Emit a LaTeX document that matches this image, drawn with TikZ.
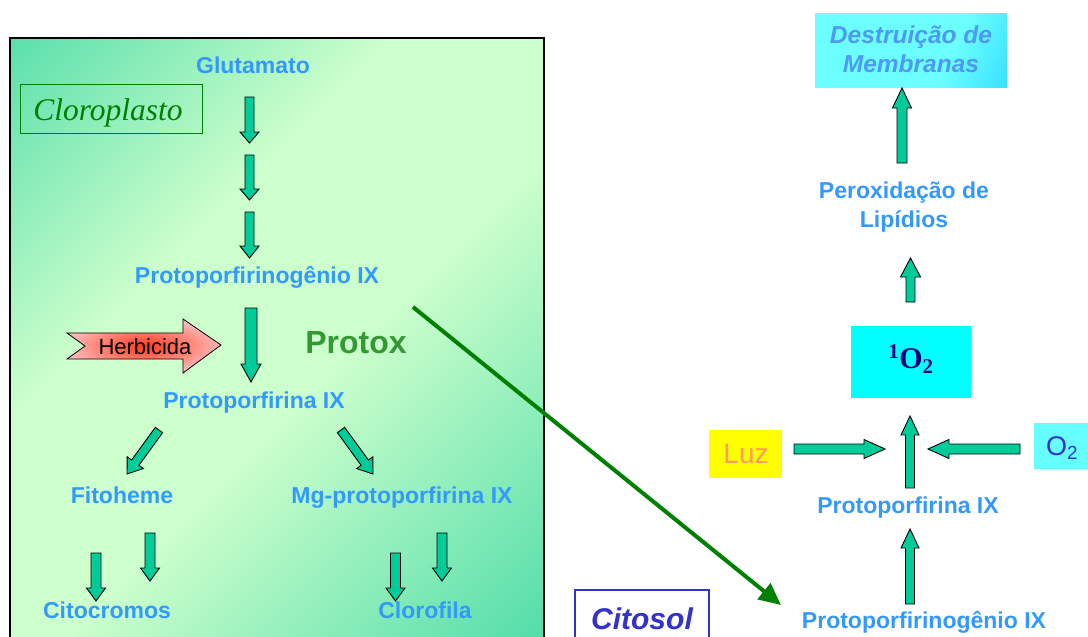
\documentclass[tikz,border=0pt]{standalone}
\usepackage{fontspec}
\setmainfont{Liberation Serif}
\newfontfamily\ars{Liberation Sans}
\usetikzlibrary{arrows.meta,calc}
\definecolor{panelteal}{RGB}{20,204,152}
\definecolor{panellight}{RGB}{204,255,204}
\definecolor{arrteal}{HTML}{00CC99}
\definecolor{lblue}{HTML}{3399FF}
\definecolor{protoxgreen}{HTML}{339933}
\definecolor{clorogreen}{HTML}{008000}
\definecolor{citblue}{HTML}{3333CC}
\definecolor{navyO}{HTML}{000080}
\definecolor{luztext}{HTML}{FF9966}
\definecolor{luzfill}{RGB}{255,255,0}
\definecolor{cyanbox}{RGB}{0,255,255}
\definecolor{o2fill}{HTML}{66FFFF}
\definecolor{dlight}{HTML}{6CFFFF}
\definecolor{ddark}{HTML}{10C8FF}
\definecolor{destrtext}{HTML}{4D99F5}
\definecolor{herbred}{HTML}{FF3A1A}
\definecolor{herbpink}{HTML}{FFB8B8}
\pgfdeclarehorizontalshading{panelshade}{100bp}{color(0bp)=(panelteal); color(38bp)=(panellight); color(55bp)=(panellight); color(100bp)=(panelteal)}
\pgfdeclarehorizontalshading{destrshade}{100bp}{color(0bp)=(dlight); color(62bp)=(dlight); color(100bp)=(ddark)}
\tikzset{
  barrowstyle/.style={fill=arrteal, draw=black, line width=0.9pt, line join=miter},
  pics/blockarr/.style n args={4}{code={%
    \path[barrowstyle] (0,-#2) -- ({#1-#4},-#2) -- ({#1-#4},-#3) -- (#1,0)
      -- ({#1-#4},#3) -- ({#1-#4},#2) -- (0,#2) -- cycle;}},
  lbl/.style={font=\ars\bfseries\fontsize{23}{26}\selectfont, text=lblue, anchor=base, inner sep=0pt},
}
\newcommand\barr[5]{%
  \path let \p1=(#1), \p2=(#2), \n1={atan2(\y2-\y1,\x2-\x1)},
    \n2={veclen(\x2-\x1,\y2-\y1)} in pic[rotate=\n1] at (\p1) {blockarr={\n2}{#3}{#4}{#5}};}
\begin{document}
\begin{tikzpicture}[x=1pt,y=-1pt]
\useasboundingbox (0,0) rectangle (1088,637);
\fill[white] (0,0) rectangle (1088,637);
% chloroplast panel
\shade[shading=panelshade, shading angle=-45] (10,38) rectangle (544,650);
\draw[black, line width=1.2pt] (10,650) -- (10,38) -- (544,38) -- (544,650);
% Cloroplasto label
\node[draw=clorogreen, line width=1pt, minimum width=182pt, minimum height=49pt, inner sep=0pt,
  anchor=north west] (clorobox) at (20,84) {};
\node[font=\itshape\fontsize{31.5}{34}\selectfont, text=clorogreen, anchor=base, inner sep=0pt]
  (cloro) at (108,120) {Cloroplasto};
% left labels
\node[lbl] (glut) at (253,73) {Glutamato};
\node[lbl] (protogenL) at (257,283) {Protoporfirinogênio IX};
\node[font=\ars\bfseries\fontsize{32}{36}\selectfont, text=protoxgreen, anchor=base, inner sep=0pt]
  (protox) at (356,353) {Protox};
\node[lbl] (protoL) at (254,408) {Protoporfirina IX};
\node[lbl] (fito) at (122,503) {Fitoheme};
\node[lbl] (mg) at (402,503) {Mg-protoporfirina IX};
\node[lbl] (cito) at (107,618) {Citocromos};
\node[lbl] (cloroF) at (425,618) {Clorofila};
% Herbicida arrow
\shadedraw[draw=black, line width=0.8pt, inner color=herbred, outer color=herbpink]
  (67,333) -- (183,333) -- (183,319) -- (221,345) -- (183,373) -- (183,359) -- (67,359) -- (85,346) -- cycle;
\node[font=\ars\fontsize{22}{24}\selectfont, text=black, anchor=base, inner sep=0pt]
  (herb) at (145,354) {Herbicida};
% left block arrows
\coordinate (a1s) at (249.5,97);  \coordinate (a1e) at (249.5,143);
\coordinate (a2s) at (249.5,155); \coordinate (a2e) at (249.5,200);
\coordinate (a3s) at (249.5,212); \coordinate (a3e) at (249.5,258);
\coordinate (a4s) at (251,308);   \coordinate (a4e) at (251,382);
\coordinate (a5s) at (159,430);   \coordinate (a5e) at (127,474);
\coordinate (a6s) at (341,430);   \coordinate (a6e) at (373,474);
\coordinate (a7s) at (96,553);    \coordinate (a7e) at (96,601);
\coordinate (a8s) at (150,533);   \coordinate (a8e) at (150,581);
\coordinate (a9s) at (395.5,553); \coordinate (a9e) at (395.5,601);
\coordinate (a10s) at (442,533);  \coordinate (a10e) at (442,581);
\barr{a1s}{a1e}{4.5}{9.5}{11}
\barr{a2s}{a2e}{4.5}{9.5}{11}
\barr{a3s}{a3e}{4.5}{9.5}{12}
\barr{a4s}{a4e}{6}{10}{18}
\barr{a5s}{a5e}{4.5}{10}{14}
\barr{a6s}{a6e}{4.5}{10}{14}
\barr{a7s}{a7e}{5}{9.5}{13}
\barr{a8s}{a8e}{5}{9.5}{13}
\barr{a9s}{a9e}{5}{9.5}{13}
\barr{a10s}{a10e}{5}{9.5}{13}
% Citosol
\draw[citblue, line width=2pt] (575,645) -- (575,590) -- (709,590) -- (709,645);
\node[font=\ars\bfseries\itshape\fontsize{30}{32}\selectfont, text=citblue, anchor=base, inner sep=0pt]
  (citosol) at (642,629) {Citosol};
% right side
\shade[shading=destrshade, shading angle=-25] (815,13) rectangle (1007,87);
\node[font=\ars\bfseries\itshape\fontsize{24.5}{28}\selectfont, text=destrtext, anchor=base, inner sep=0pt]
  (destr) at (911,43) {Destruição de};
\node[font=\ars\bfseries\itshape\fontsize{24.5}{28}\selectfont, text=destrtext, anchor=base, inner sep=0pt]
  (membr) at (911,72) {Membranas};
\node[lbl] (perox) at (904,198) {Peroxidação de};
\node[lbl] (lipid) at (904,227) {Lipídios};
\fill[cyanbox] (851,326) rectangle (971,398);
\node[font=\bfseries\fontsize{30}{32}\selectfont, text=navyO, anchor=base, inner sep=0pt]
  (singO) at (911,368) {\textsuperscript{1}O\textsubscript{2}};
\fill[luzfill] (709,430) rectangle (782,478);
\node[font=\ars\fontsize{28}{30}\selectfont, text=luztext, anchor=base, inner sep=0pt]
  (luz) at (746,463) {Luz};
\fill[o2fill] (1034,423) rectangle (1088,469);
\node[font=\ars\fontsize{27}{30}\selectfont, text=citblue, anchor=base, inner sep=0pt]
  (otwo) at (1062,455) {O\textsubscript{2}};
\node[lbl] (protoR) at (908,513) {Protoporfirina IX};
\node[lbl] (protogenR) at (924,628) {Protoporfirinogênio IX};
% right block arrows
\coordinate (b1s) at (902,163);   \coordinate (b1e) at (902,88);
\coordinate (b2s) at (910.5,302); \coordinate (b2e) at (910.5,258);
\coordinate (b3s) at (910,488);   \coordinate (b3e) at (910,416);
\coordinate (b4s) at (794,449);   \coordinate (b4e) at (885,449);
\coordinate (b5s) at (1020,449);  \coordinate (b5e) at (928,449);
\coordinate (b6s) at (910,604);   \coordinate (b6e) at (910,529);
\barr{b1s}{b1e}{5}{9.5}{20}
\barr{b2s}{b2e}{4.5}{10}{19}
\barr{b3s}{b3e}{4.5}{9}{19}
\barr{b4s}{b4e}{5}{9.5}{21}
\barr{b5s}{b5e}{5}{9.5}{21}
\barr{b6s}{b6e}{4.5}{9}{19}
% big green arrow
\coordinate (gs) at (413,307);
\coordinate (ge) at (781,605);
\draw[clorogreen, line width=4pt, -{Triangle[length=22pt,width=20pt]}] (gs) -- (ge);
\end{tikzpicture}
\end{document}
